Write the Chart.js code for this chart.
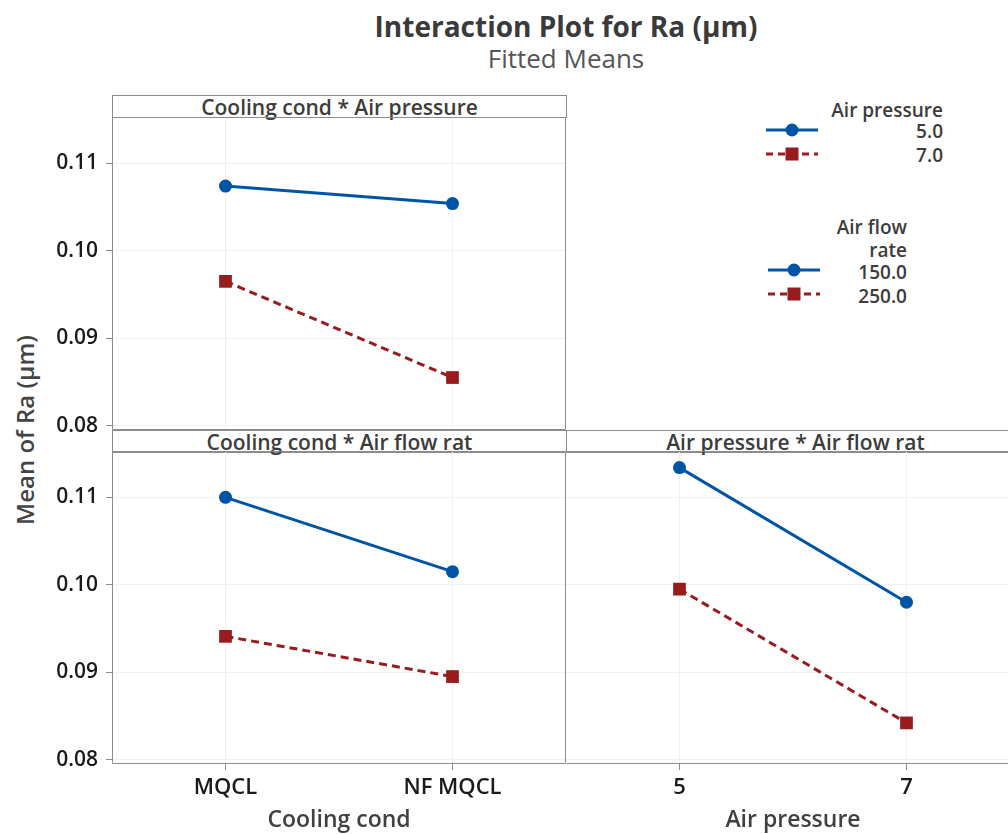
<!DOCTYPE html>
<html><head><meta charset="utf-8">
<script src="https://cdn.jsdelivr.net/npm/chart.js@4.4.0/dist/chart.umd.min.js"></script>
<style>
html,body{margin:0;padding:0;background:#fff;overflow:hidden;width:1008px;height:834px;}
body{position:relative;font-family:"Open Sans","Noto Sans",sans-serif;color:#3c3c3c;}
canvas{position:absolute;}
.txt{position:absolute;white-space:nowrap;}
.hdr{position:absolute;box-sizing:border-box;border:1px solid #8c8c8c;text-align:center;font-weight:600;font-size:21px;color:#3c3c3c;line-height:22px;height:23px;overflow:visible;}
.lg{position:absolute;font-weight:600;font-size:19px;color:#3c3c3c;text-align:right;white-space:nowrap;line-height:22px;}
svg{position:absolute;}
</style></head><body>
<div class="txt" id="title" style="left:366px;width:400px;top:8px;text-align:center;font-size:28px;font-weight:700;color:#3a3a3a;line-height:36px;"></div>
<div class="txt" id="subtitle" style="left:366px;width:400px;top:42px;text-align:center;font-size:26px;font-weight:400;color:#555;line-height:32px;"></div>
<div class="txt" id="ytitle" style="left:24px;top:430px;transform:translate(-50%,-50%) rotate(-90deg);font-size:24px;font-weight:600;color:#444;"></div>

<div class="hdr" id="h1" style="left:112px;top:95px;width:455px;"></div>
<div class="hdr" id="h2" style="left:112px;top:430px;width:455px;"></div>
<div class="hdr" id="h3" style="left:566px;top:430px;width:460px;border-left:none;"></div>

<canvas id="c1" width="566" height="334" style="left:0;top:117px;"></canvas>
<canvas id="c2" width="566" height="383" style="left:0;top:451px;"></canvas>
<canvas id="c3" width="454" height="383" style="left:566px;top:451px;"></canvas>

<div id="legend"></div>

<script>
// ---- data ----
const coolingLevels = ["MQCL", "NF MQCL"];
const coolingPos = [0, 1];
const pressureLevels = [5, 7];
const pressureTickLabels = ["5", "7"];
const pressureLegend = ["5.0", "7.0"];
const flowLegend = ["150.0", "250.0"];
const yTicks = [0.08, 0.09, 0.10, 0.11];
// Cooling cond * Air pressure
const cpAt5 = [0.1074, 0.1054];
const cpAt7 = [0.0965, 0.0855];
// Cooling cond * Air flow rate
const cfAt150 = [0.1100, 0.1015];
const cfAt250 = [0.0941, 0.0895];
// Air pressure * Air flow rate
const pfAt150 = [0.1134, 0.0980];
const pfAt250 = [0.0995, 0.0842];

const titleText = "Interaction Plot for Ra (µm)";
const subtitleText = "Fitted Means";
const yTitleText = "Mean of Ra (µm)";
const panelTitles = ["Cooling cond * Air pressure", "Cooling cond * Air flow rat", "Air pressure * Air flow rat"];
const xTitles = ["Cooling cond", "Air pressure"];

document.getElementById('title').textContent = titleText;
document.getElementById('subtitle').textContent = subtitleText;
document.getElementById('ytitle').textContent = yTitleText;
document.getElementById('h1').textContent = panelTitles[0];
document.getElementById('h2').textContent = panelTitles[1];
document.getElementById('h3').textContent = panelTitles[2];

const BLUE = '#0054a6';
const RED = '#981b1e';
const FONT = '"Open Sans","Noto Sans",sans-serif';

// legend
const lg = document.getElementById('legend');
function addText(txt, right, cy, w) {
  const d = document.createElement('div');
  d.className = 'lg';
  d.textContent = txt;
  d.style.left = (right - w) + 'px';
  d.style.width = w + 'px';
  d.style.top = (cy - 11) + 'px';
  lg.appendChild(d);
}
function addSym(x, cy, dashed) {
  const ns = 'http://www.w3.org/2000/svg';
  const s = document.createElementNS(ns, 'svg');
  s.setAttribute('width', 56); s.setAttribute('height', 16);
  s.style.left = x + 'px'; s.style.top = (cy - 8) + 'px';
  const l = document.createElementNS(ns, 'line');
  l.setAttribute('x1', 1); l.setAttribute('x2', 53); l.setAttribute('y1', 8); l.setAttribute('y2', 8);
  l.setAttribute('stroke', dashed ? RED : BLUE); l.setAttribute('stroke-width', 3);
  if (dashed) l.setAttribute('stroke-dasharray', '7,5');
  s.appendChild(l);
  let m;
  if (dashed) {
    m = document.createElementNS(ns, 'rect');
    m.setAttribute('x', 20.5); m.setAttribute('y', 1.5); m.setAttribute('width', 13); m.setAttribute('height', 13);
    m.setAttribute('fill', RED);
  } else {
    m = document.createElementNS(ns, 'circle');
    m.setAttribute('cx', 27); m.setAttribute('cy', 8); m.setAttribute('r', 6.5);
    m.setAttribute('fill', BLUE);
  }
  s.appendChild(m);
  lg.appendChild(s);
}
addText("Air pressure", 943, 110, 200);
addText(pressureLegend[0], 943, 131, 100);
addText(pressureLegend[1], 943, 155, 100);
addSym(765, 130, false);
addSym(765, 154, true);
addText("Air flow", 907, 227, 150);
addText("rate", 907, 250, 150);
addText(flowLegend[0], 907, 272, 100);
addText(flowLegend[1], 907, 296, 100);
addSym(767, 270, false);
addSym(767, 294, true);

const framePlugin = {
  id: 'frame',
  afterDraw(chart, args, opts) {
    const {ctx, chartArea: a} = chart;
    const l = Math.round(a.left) + 0.5, t = Math.round(a.top) + 0.5;
    const r = Math.round(a.right) - 0.5, b = Math.round(a.bottom) - 0.5;
    ctx.save();
    ctx.strokeStyle = '#8c8c8c';
    ctx.lineWidth = 1;
    ctx.beginPath();
    ctx.moveTo(l, t); ctx.lineTo(r, t); ctx.lineTo(r, b); ctx.lineTo(l, b);
    if (!opts.noLeft) ctx.lineTo(l, t);
    ctx.stroke();
    ctx.restore();
  }
};

function pts(xs, ys) { return xs.map((x, i) => ({x: x, y: ys[i]})); }

function makePanel(id, o) {
  new Chart(document.getElementById(id), {
    type: 'line',
    data: {
      datasets: [
        {data: pts(o.xVals, o.s1), borderColor: BLUE, backgroundColor: BLUE, borderWidth: 3,
         pointStyle: 'circle', pointRadius: 6.5, pointHoverRadius: 6.5, pointBorderWidth: 0, tension: 0},
        {data: pts(o.xVals, o.s2), borderColor: RED, backgroundColor: RED, borderWidth: 3, borderDash: [8, 5],
         pointStyle: 'rect', pointRadius: 9, pointHoverRadius: 9, pointBorderWidth: 0, tension: 0}
      ]
    },
    options: {
      responsive: false, animation: false, events: [],
      layout: {autoPadding: false, padding: {left: 0, right: 0, top: 0, bottom: o.padBottom || 0}},
      plugins: {legend: {display: false}, tooltip: {enabled: false}, frame: {noLeft: !!o.noLeft}},
      scales: {
        x: {
          type: 'linear', min: o.xMin, max: o.xMax,
          afterBuildTicks: s => { s.ticks = o.xVals.map(v => ({value: v})); },
          afterFit: s => { s.height = o.showX ? 70 : 0; s.paddingLeft = 0; s.paddingRight = 0; },
          ticks: {display: o.showX, autoSkip: false, maxRotation: 0, padding: 5,
                  callback: v => o.xLabels[o.xVals.indexOf(v)],
                  font: {family: FONT, size: 22, weight: '600'}, color: '#1a1a1a'},
          grid: {color: '#f0f0f0', tickColor: '#8c8c8c', tickLength: 6, drawTicks: o.showX},
          border: {display: false},
          title: {display: o.showX, text: o.xTitle, color: '#404040', font: {family: FONT, size: 23, weight: '600'},
                  padding: {top: 0, bottom: 0}}
        },
        y: {
          type: 'linear', min: 0.0795, max: 0.1153,
          afterBuildTicks: s => { s.ticks = yTicks.map(v => ({value: v})); },
          afterFit: s => { s.width = o.showY ? 112 : 0; s.paddingTop = 0; s.paddingBottom = 0; },
          ticks: {display: o.showY, padding: 8, callback: v => v.toFixed(2),
                  font: {family: FONT, size: 21, weight: '600'}, color: '#1a1a1a'},
          grid: {color: '#f0f0f0', tickColor: '#8c8c8c', tickLength: 6, drawTicks: o.showY},
          border: {display: false}
        }
      }
    },
    plugins: [framePlugin]
  });
}

makePanel('c1', {xVals: coolingPos, xLabels: coolingLevels, xMin: -0.5, xMax: 1.5, s1: cpAt5, s2: cpAt7,
                 showX: false, showY: true, padBottom: 21});
makePanel('c2', {xVals: coolingPos, xLabels: coolingLevels, xMin: -0.5, xMax: 1.5, s1: cfAt150, s2: cfAt250,
                 showX: true, showY: true, xTitle: xTitles[0]});
makePanel('c3', {xVals: pressureLevels, xLabels: pressureTickLabels, xMin: 4, xMax: 8, s1: pfAt150, s2: pfAt250,
                 showX: true, showY: false, noLeft: true, xTitle: xTitles[1]});
</script>
</body></html>
